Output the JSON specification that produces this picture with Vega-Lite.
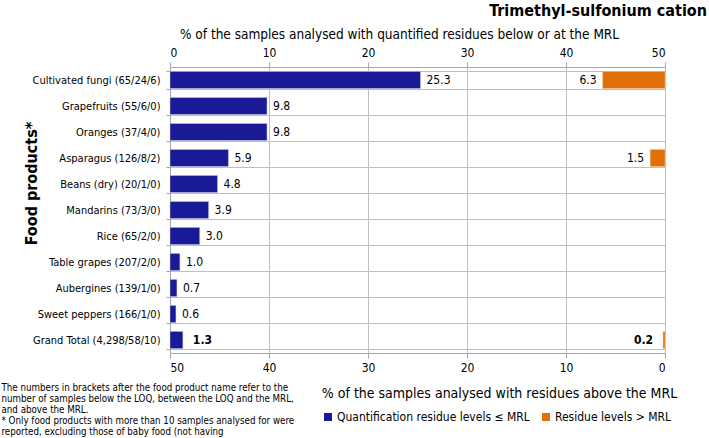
{
  "$schema": "https://vega.github.io/schema/vega-lite/v6.json",
  "autosize": {"type": "none"},
  "padding": {"left": 170, "top": 67, "right": 44, "bottom": 85},
  "width": 495,
  "height": 286,
  "background": "white",
  "title": {
    "text": "Trimethyl-sulfonium cation",
    "anchor": "end",
    "frame": "group",
    "dx": 42,
    "offset": 8,
    "font": "DejaVu Sans Condensed",
    "fontSize": 16,
    "fontWeight": "bold",
    "color": "black"
  },
  "config": {
    "view": {"stroke": null},
    "font": "DejaVu Sans Condensed",
    "axis": {"labelFont": "DejaVu Sans Condensed", "titleFont": "DejaVu Sans Condensed", "labelColor": "black", "titleColor": "black"},
    "legend": {"labelFont": "DejaVu Sans Condensed"}
  },
  "data": {
    "values": [
      {"product": "Cultivated fungi (65/24/6)", "q": 25.3, "a": 6.3},
      {"product": "Grapefruits (55/6/0)", "q": 9.8, "a": 0},
      {"product": "Oranges (37/4/0)", "q": 9.8, "a": 0},
      {"product": "Asparagus (126/8/2)", "q": 5.9, "a": 1.5},
      {"product": "Beans (dry) (20/1/0)", "q": 4.8, "a": 0},
      {"product": "Mandarins (73/3/0)", "q": 3.9, "a": 0},
      {"product": "Rice (65/2/0)", "q": 3.0, "a": 0},
      {"product": "Table grapes (207/2/0)", "q": 1.0, "a": 0},
      {"product": "Aubergines (139/1/0)", "q": 0.7, "a": 0},
      {"product": "Sweet peppers (166/1/0)", "q": 0.6, "a": 0},
      {"product": "Grand Total (4,298/58/10)", "q": 1.3, "a": 0.2, "total": true}
    ]
  },
  "layer": [
    {
      "encoding": {
        "y": {
          "field": "product", "type": "nominal", "sort": null,
          "scale": {"paddingInner": 0.34, "paddingOuter": 0.17},
          "axis": {
            "orient": "left",
            "title": "Food products*",
            "titleFontSize": 16,
            "titleFontWeight": "bold",
            "titleX": -139,
            "titleY": 116,
            "titleAlign": "center",
            "titleBaseline": "middle",
            "labelFontSize": 11,
            "labelPadding": 6,
            "tickSize": 4,
            "tickBand": "extent",
            "tickColor": "#a6a6a6",
            "domainColor": "#a6a6a6",
            "grid": true,
            "gridColor": "#bfbfbf",
            "labelLimit": 200
          }
        },
        "x": {
          "field": "q", "type": "quantitative",
          "scale": {"domain": [0, 50], "nice": false},
          "axis": {
            "orient": "top",
            "values": [0, 10, 20, 30, 40, 50],
            "title": "% of the samples analysed with quantified residues below or at the MRL",
            "titleFontSize": 13.5,
            "titleFontWeight": "normal",
            "titleX": 229,
            "titleY": -33,
            "titleAlign": "center",
            "titleBaseline": "middle",
            "labelFontSize": 12,
            "labelPadding": 3,
            "tickSize": 5,
            "tickColor": "#a6a6a6",
            "domainColor": "#a6a6a6",
            "grid": true,
            "gridColor": "#bfbfbf"
          }
        }
      },
      "layer": [
        {
          "mark": {"type": "bar", "stroke": "#c8c8e0", "strokeWidth": 0.5},
          "encoding": {
            "color": {
              "datum": "Quantification residue levels ≤ MRL",
              "type": "nominal",
              "scale": {"domain": ["Quantification residue levels ≤ MRL", "Residue levels > MRL"], "range": ["#1a1a96", "#e2700a"]},
              "legend": {
                "orient": "none",
                "legendX": 152,
                "legendY": 344,
                "direction": "horizontal",
                "title": null,
                "symbolType": "square",
                "symbolSize": 64,
                "symbolStrokeWidth": 0,
                "labelFontSize": 12,
                "labelColor": "black",
                "labelOffset": 3,
                "columnPadding": 10,
                "labelLimit": 300
              }
            }
          }
        },
        {
          "transform": [{"filter": "!datum.total"}],
          "mark": {"type": "text", "align": "left", "dx": 6, "fontSize": 12, "color": "black"},
          "encoding": {"text": {"field": "q", "type": "quantitative", "format": ".1f"}}
        },
        {
          "transform": [{"filter": "datum.total"}],
          "mark": {"type": "text", "align": "left", "dx": 10, "fontSize": 12, "fontWeight": "bold", "color": "black"},
          "encoding": {"text": {"field": "q", "type": "quantitative", "format": ".1f"}}
        }
      ]
    },
    {
      "transform": [{"filter": "datum.a > 0"}],
      "encoding": {
        "y": {
          "field": "product", "type": "nominal", "sort": null,
          "axis": {
            "orient": "right",
            "labels": false,
            "ticks": false,
            "domain": false,
            "grid": false,
            "title": ["The numbers in brackets after the food product name refer to the", "number of samples below the LOQ, between the LOQ and the MRL,", "and above the MRL.", "* Only food products with more than 10 samples analysed for were", "reported, excluding those of baby food (not having"],
            "titleAngle": 0,
            "titleAlign": "left",
            "titleBaseline": "top",
            "titleX": -664,
            "titleY": 315,
            "titleFontSize": 9.7,
            "titleFontWeight": "normal",
            "titleLineHeight": 11,
            "titleLimit": 500
          }
        },
        "x": {
          "field": "a", "type": "quantitative",
          "scale": {"domain": [0, 50], "nice": false, "reverse": true},
          "axis": {
            "orient": "bottom",
            "values": [0, 10, 20, 30, 40, 50],
            "title": "% of the samples analysed with residues above the MRL",
            "titleFontSize": 14,
            "titleFontWeight": "normal",
            "titleX": 329,
            "titleY": 40,
            "titleAlign": "center",
            "titleBaseline": "middle",
            "labelFontSize": 12,
            "labelPadding": 4,
            "tickSize": 5,
            "tickColor": "#a6a6a6",
            "domainColor": "#a6a6a6",
            "grid": true,
            "gridColor": "#bfbfbf"
          }
        }
      },
      "layer": [
        {
          "mark": {"type": "bar", "stroke": "#f0c8a0", "strokeWidth": 0.5},
          "encoding": {"color": {"datum": "Residue levels > MRL", "type": "nominal"}}
        },
        {
          "transform": [{"filter": "!datum.total"}],
          "mark": {"type": "text", "align": "right", "dx": -6, "fontSize": 12, "color": "black"},
          "encoding": {"text": {"field": "a", "type": "quantitative", "format": ".1f"}}
        },
        {
          "transform": [{"filter": "datum.total"}],
          "mark": {"type": "text", "align": "right", "dx": -10, "fontSize": 12, "fontWeight": "bold", "color": "black"},
          "encoding": {"text": {"field": "a", "type": "quantitative", "format": ".1f"}}
        }
      ]
    }
  ],
  "resolve": {"scale": {"x": "independent"}, "axis": {"x": "independent", "y": "independent"}}
}
